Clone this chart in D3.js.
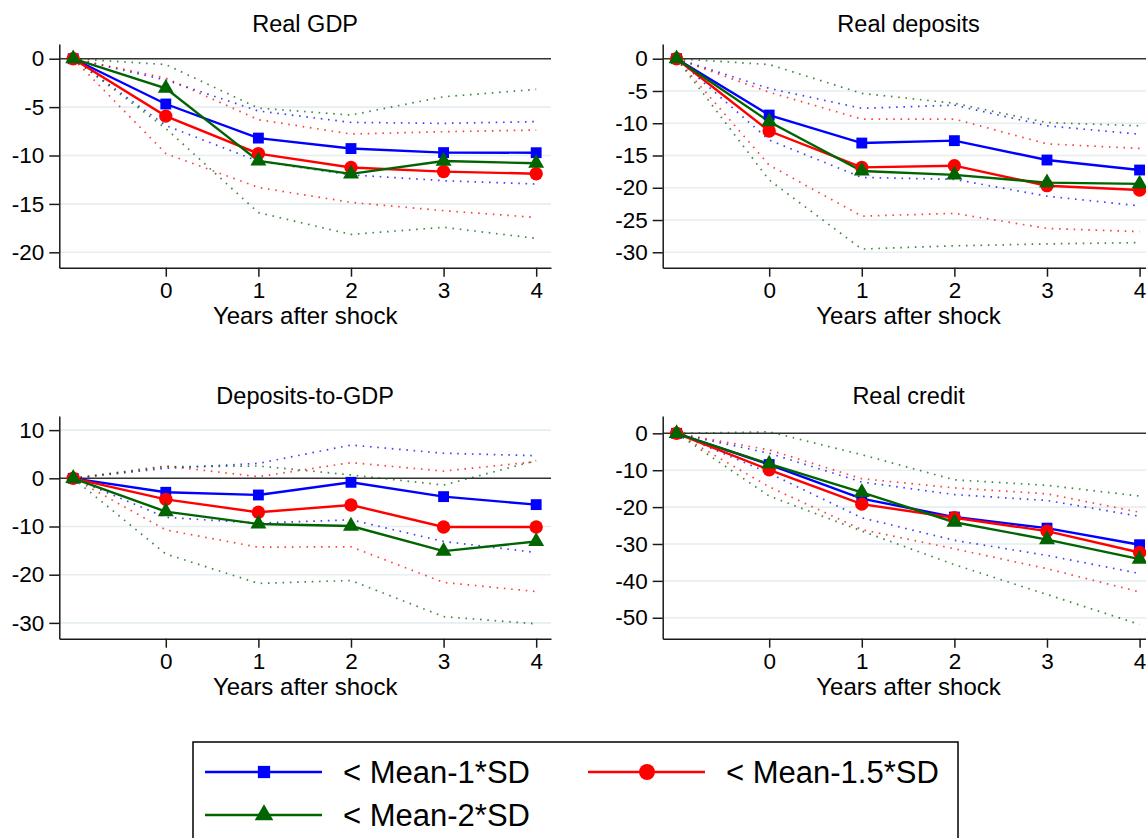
<!DOCTYPE html>
<html><head><meta charset="utf-8">
<script src="https://cdn.jsdelivr.net/npm/d3@7"></script>
<style>body{margin:0;background:#fff} svg{display:block;font-family:"Liberation Sans",Arial,Helvetica,sans-serif}</style>
</head><body><svg id="c" width="1146" height="838"></svg>
<script>
// ---------------- data ----------------
const years = [-1, 0, 1, 2, 3, 4];
const xTicks = [0, 1, 2, 3, 4];
const panelTitles = ["Real GDP", "Real deposits", "Deposits-to-GDP", "Real credit"];
const xAxisTitle = "Years after shock";
const seriesNames = ["< Mean-1*SD", "< Mean-1.5*SD", "< Mean-2*SD"];

const gdpTicks = [0, -5, -10, -15, -20];
const depTicks = [0, -5, -10, -15, -20, -25, -30];
const d2gTicks = [10, 0, -10, -20, -30];
const creditTicks = [0, -10, -20, -30, -40, -50];

const gdpDomain = [-21.59, 1.52];
const depDomain = [-32.39, 2.28];
const d2gDomain = [-33.28, 12.93];
const creditDomain = [-55.68, 4.7];

// Real GDP
const gdpSD1     = [0, -4.68, -8.2, -9.28, -9.7, -9.71];
const gdpSD1Hi   = [0, -2.2, -5.4, -6.58, -6.68, -6.5];
const gdpSD1Lo   = [0, -6.9, -10.6, -12.0, -12.6, -12.95];
const gdpSD15    = [0, -5.93, -9.8, -11.24, -11.66, -11.88];
const gdpSD15Hi  = [0, -2.0, -6.3, -7.78, -7.54, -7.37];
const gdpSD15Lo  = [0, -9.8, -13.3, -14.84, -15.7, -16.4];
const gdpSD2     = [0, -3.05, -10.55, -11.9, -10.57, -10.8];
const gdpSD2Hi   = [0, -0.6, -5.1, -5.82, -3.93, -3.17];
const gdpSD2Lo   = [0, -7.2, -15.9, -18.15, -17.42, -18.56];

// Real deposits
const depSD1     = [0, -8.73, -13.07, -12.7, -15.7, -17.25];
const depSD1Hi   = [0, -4.6, -7.7, -7.2, -10.4, -11.7];
const depSD1Lo   = [0, -12.6, -18.4, -18.7, -21.3, -22.8];
const depSD15    = [0, -11.21, -16.84, -16.58, -19.68, -20.35];
const depSD15Hi  = [0, -5.2, -9.35, -9.35, -13.2, -13.9];
const depSD15Lo  = [0, -16.5, -24.4, -23.97, -26.3, -26.8];
const depSD2     = [0, -9.76, -17.4, -18.0, -19.2, -19.4];
const depSD2Hi   = [0, -0.9, -5.37, -6.9, -9.9, -10.4];
const depSD2Lo   = [0, -18.8, -29.5, -29.0, -28.7, -28.5];

// Deposits-to-GDP
const d2gSD1     = [0, -2.9, -3.46, -0.83, -3.8, -5.46];
const d2gSD1Hi   = [0, 2.07, 3.1, 6.9, 5.2, 4.7];
const d2gSD1Lo   = [0, -8.1, -9.3, -8.6, -13.1, -15.4];
const d2gSD15    = [0, -4.36, -7.05, -5.53, -10.1, -10.1];
const d2gSD15Hi  = [0, 2.56, 0.35, 3.25, 1.5, 3.46];
const d2gSD15Lo  = [0, -10.7, -14.3, -14.2, -21.6, -23.5];
const d2gSD2     = [0, -6.9, -9.47, -9.9, -15.1, -13.1];
const d2gSD2Hi   = [0, 2.4, 2.56, 0.7, -1.4, 3.67];
const d2gSD2Lo   = [0, -15.7, -21.8, -21.2, -28.7, -30.2];

// Real credit
const crSD1      = [0, -8.47, -17.7, -22.7, -25.7, -30.2];
const crSD1Hi    = [0, -5.4, -13.2, -16.6, -18.2, -22.5];
const crSD1Lo    = [0, -10.8, -22.9, -29.0, -33.1, -38.0];
const crSD15     = [0, -9.9, -19.2, -22.9, -26.5, -32.3];
const crSD15Hi   = [0, -4.5, -12.3, -14.8, -16.4, -21.4];
const crSD15Lo   = [0, -14.5, -26.1, -31.3, -36.7, -43.0];
const crSD2      = [0, -8.3, -16.0, -24.1, -28.8, -34.1];
const crSD2Hi    = [0, 0.4, -5.8, -12.6, -14.1, -17.0];
const crSD2Lo    = [0, -17.0, -26.5, -35.6, -43.7, -51.8];

// ---------------- build ----------------
const panels = [
  {title: panelTitles[0], ticks: gdpTicks, domain: gdpDomain,
   series: [[gdpSD1, gdpSD1Hi, gdpSD1Lo], [gdpSD15, gdpSD15Hi, gdpSD15Lo], [gdpSD2, gdpSD2Hi, gdpSD2Lo]]},
  {title: panelTitles[1], ticks: depTicks, domain: depDomain,
   series: [[depSD1, depSD1Hi, depSD1Lo], [depSD15, depSD15Hi, depSD15Lo], [depSD2, depSD2Hi, depSD2Lo]]},
  {title: panelTitles[2], ticks: d2gTicks, domain: d2gDomain,
   series: [[d2gSD1, d2gSD1Hi, d2gSD1Lo], [d2gSD15, d2gSD15Hi, d2gSD15Lo], [d2gSD2, d2gSD2Hi, d2gSD2Lo]]},
  {title: panelTitles[3], ticks: creditTicks, domain: creditDomain,
   series: [[crSD1, crSD1Hi, crSD1Lo], [crSD15, crSD15Hi, crSD15Lo], [crSD2, crSD2Hi, crSD2Lo]]}
];

const colors = ["#0000ff", "#ff0000", "#006400"];
const symbols = [d3.symbolSquare, d3.symbolCircle, d3.symbolTriangle];
const symSizes = [118, 140, 110];
const legSizes = [150, 200, 150];

const cols = [[59.3, 551], [662.7, 1154.4]];
const rows = [[44, 267.7], [416, 638.7]];

const svg = d3.select("#c");
svg.append("rect").attr("width", 1146).attr("height", 838).attr("fill", "#fff");

panels.forEach((p, i) => {
  const [x0, x1] = cols[i % 2];
  const [y0, y1] = rows[Math.floor(i / 2)];
  const x = d3.scaleLinear().domain([-1.15, 4.16]).range([x0, x1]);
  const y = d3.scaleLinear().domain(p.domain).range([y1, y0]);
  const g = svg.append("g");

  g.selectAll(".grid").data(p.ticks.filter(t => t !== 0)).join("line")
    .attr("x1", x0).attr("x2", x1)
    .attr("y1", d => y(d)).attr("y2", d => y(d))
    .attr("stroke", "#e6eef0").attr("stroke-width", 1.6);

  g.append("line").attr("x1", x0).attr("x2", x1)
    .attr("y1", y(0)).attr("y2", y(0))
    .attr("stroke", "#333").attr("stroke-width", 1.5);

  const ya = g.append("g").attr("transform", `translate(${x0},0)`)
    .call(d3.axisLeft(y).tickValues(p.ticks).tickSize(10).tickPadding(5).tickSizeOuter(0).tickFormat(d => String(d)));
  const xa = g.append("g").attr("transform", `translate(0,${y1})`)
    .call(d3.axisBottom(x).tickValues(xTicks).tickSize(9).tickPadding(5).tickSizeOuter(0).tickFormat(d => String(d)));
  [ya, xa].forEach(a => {
    a.selectAll("path,line").attr("stroke", "#1a1a1a").attr("stroke-width", 1.5);
    a.selectAll("text").attr("font-size", 22.5).attr("fill", "#000")
      .attr("font-family", '"Liberation Sans",Arial,sans-serif');
  });

  g.append("text").attr("x", (x0 + x1) / 2).attr("y", y0 - 12)
    .attr("text-anchor", "middle").attr("font-size", 23.5).attr("fill", "#000").text(p.title);
  g.append("text").attr("x", (x0 + x1) / 2).attr("y", y1 + 56)
    .attr("text-anchor", "middle").attr("font-size", 24).attr("fill", "#000").text(xAxisTitle);

  const line = d3.line().x((d, k) => x(years[k])).y(d => y(d));

  p.series.forEach((s, si) => {
    [s[1], s[2]].forEach(b => {
      g.append("path").attr("d", line(b)).attr("fill", "none")
        .attr("stroke", colors[si]).attr("stroke-width", 1.7)
        .attr("stroke-dasharray", "1.6,5.7").attr("opacity", 0.75);
    });
  });
  p.series.forEach((s, si) => {
    g.append("path").attr("d", line(s[0])).attr("fill", "none")
      .attr("stroke", colors[si]).attr("stroke-width", 2.4);
  });
  p.series.forEach((s, si) => {
    g.selectAll(null).data(s[0]).join("path")
      .attr("transform", (d, k) => `translate(${x(years[k])},${y(d)})`)
      .attr("d", d3.symbol().type(symbols[si]).size(symSizes[si]))
      .attr("fill", colors[si]);
  });
});

const leg = svg.append("g");
leg.append("rect").attr("x", 193).attr("y", 742).attr("width", 765).attr("height", 130)
  .attr("fill", "#fff").attr("stroke", "#000").attr("stroke-width", 1.5);
const legPos = [[205, 772], [588, 772], [205, 815]];
seriesNames.forEach((name, i) => {
  const [lx, ly] = legPos[i];
  leg.append("line").attr("x1", lx).attr("x2", lx + 117).attr("y1", ly).attr("y2", ly)
    .attr("stroke", colors[i]).attr("stroke-width", 2.7);
  leg.append("path").attr("transform", `translate(${lx + 59},${ly})`)
    .attr("d", d3.symbol().type(symbols[i]).size(legSizes[i])).attr("fill", colors[i]);
  leg.append("text").attr("x", lx + 138).attr("y", ly + 11).attr("font-size", 31)
    .attr("fill", "#000").text(name);
});
</script></body></html>
